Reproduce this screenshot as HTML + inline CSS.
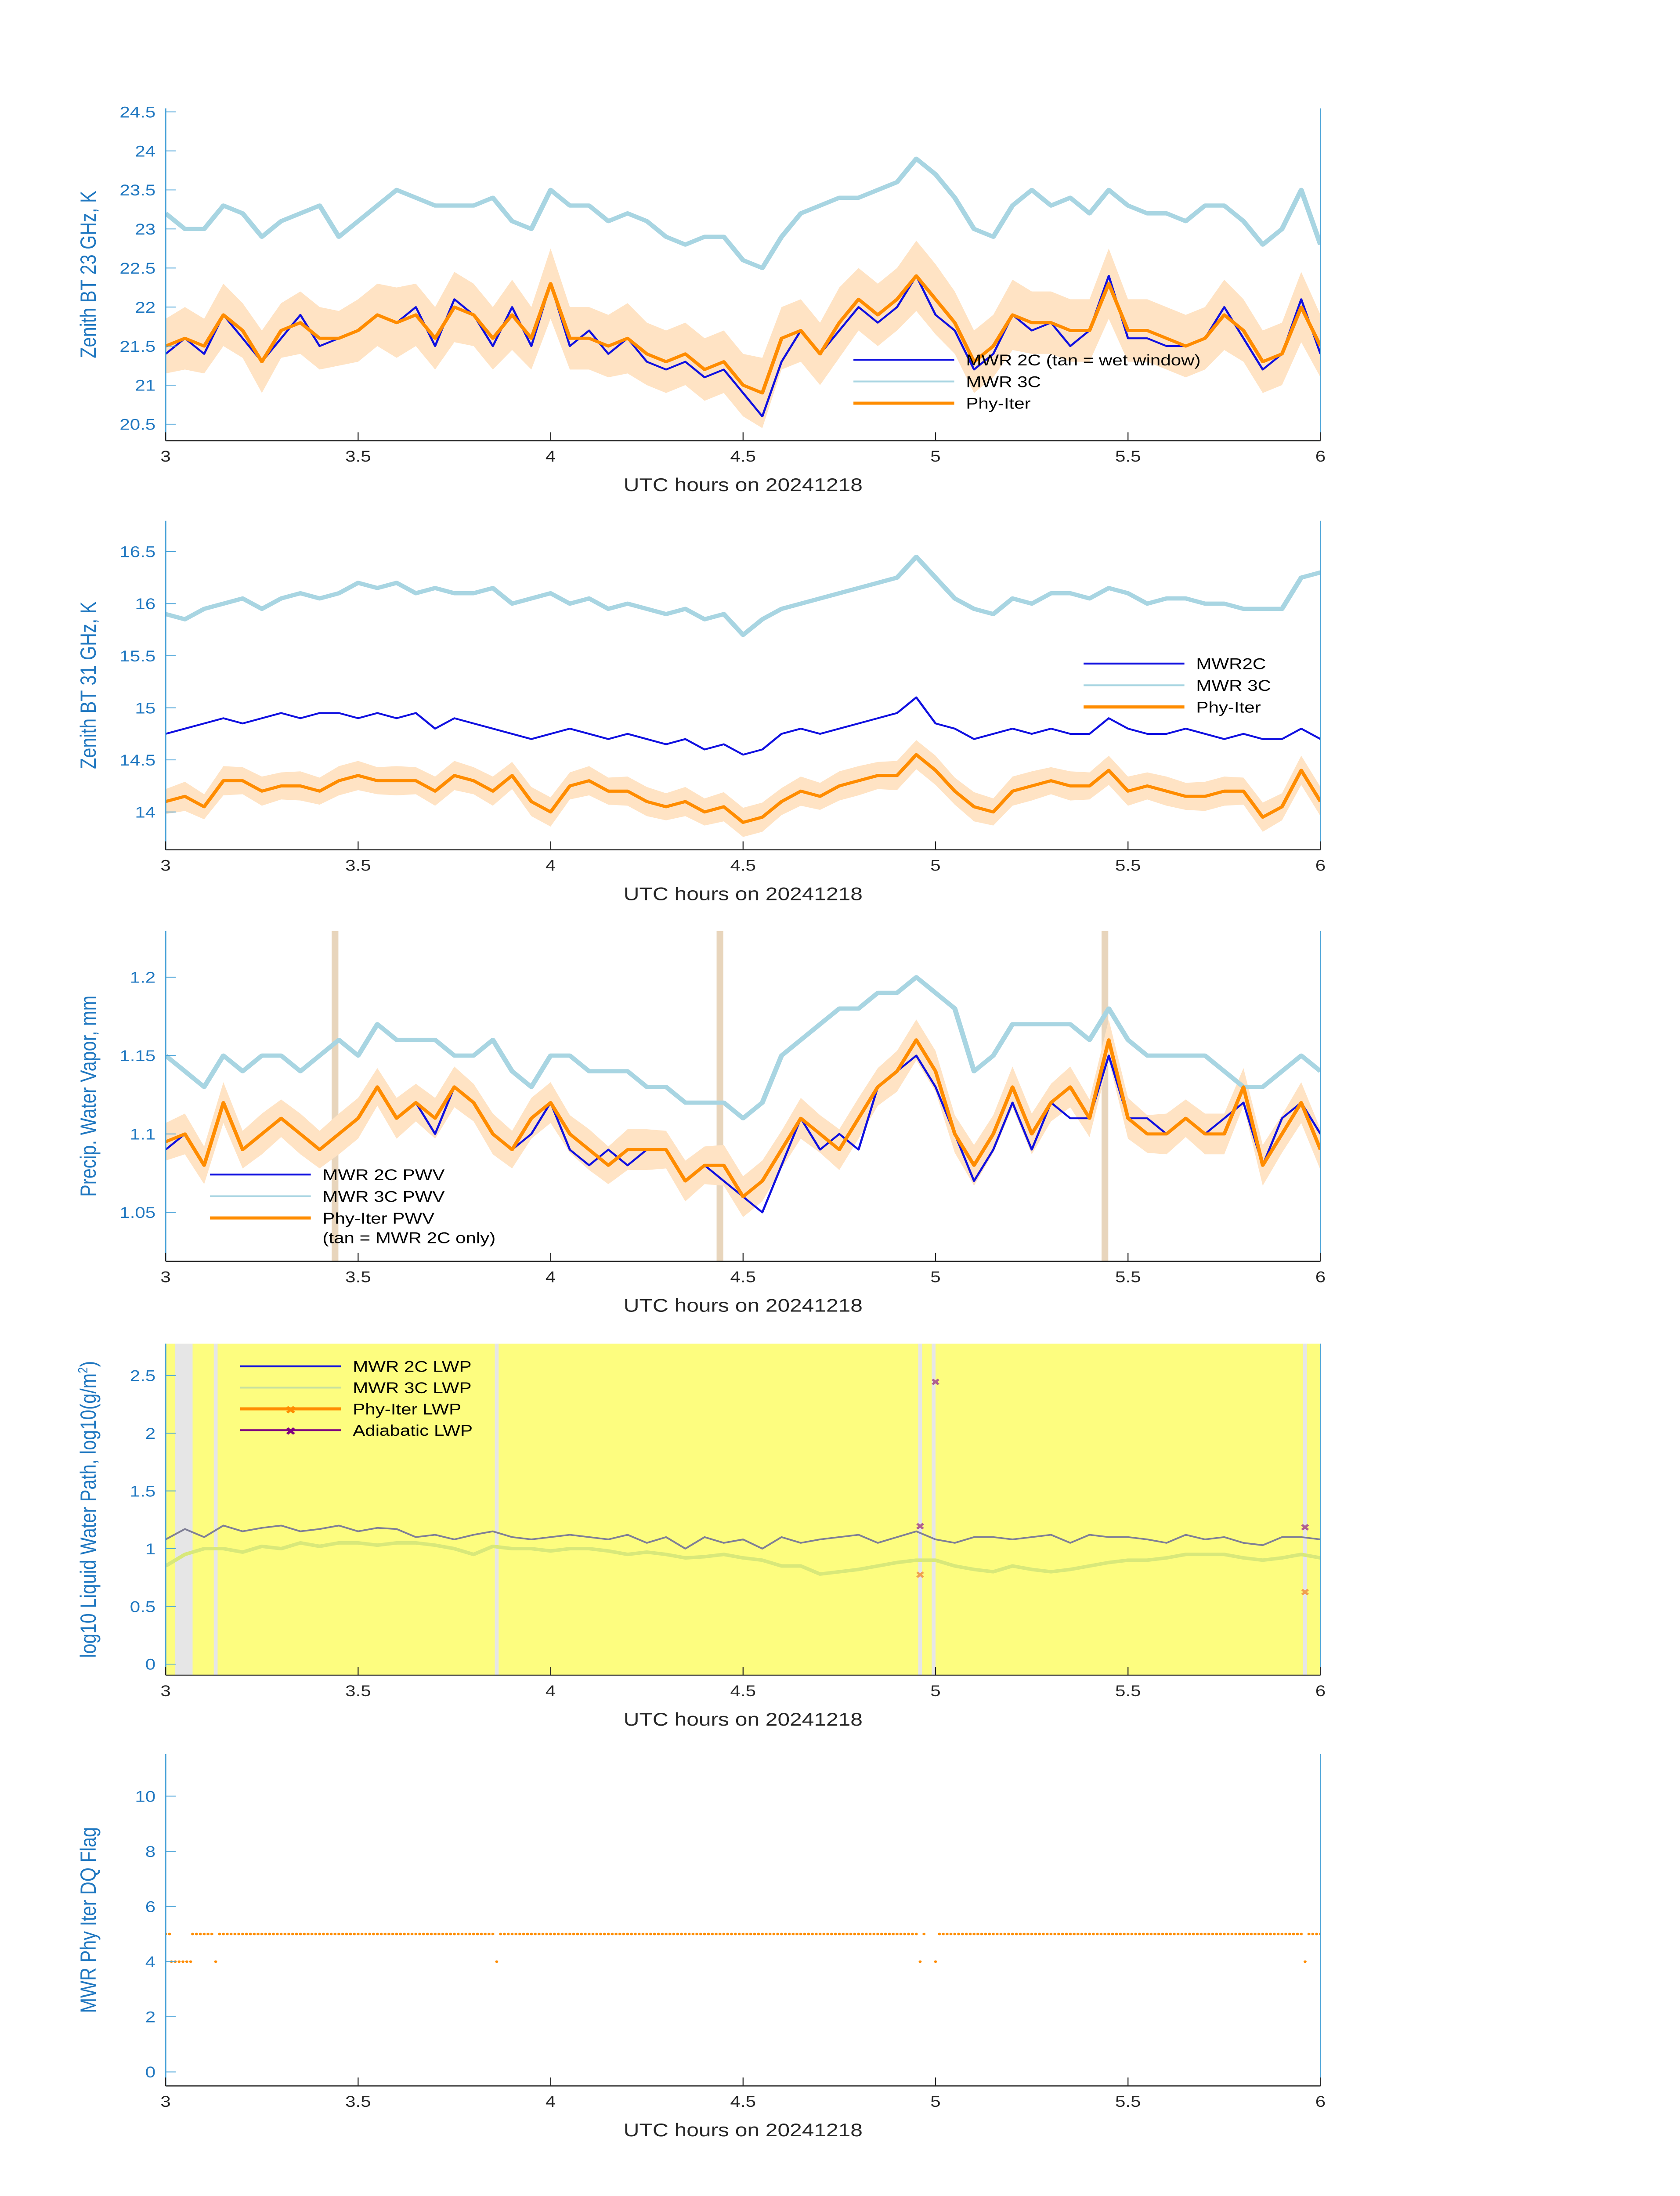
<!DOCTYPE html>
<html><head><meta charset="utf-8"><style>
html,body{margin:0;padding:0;background:#fff;width:100vw;height:100vh;overflow:hidden;}
svg{display:block;width:100vw;height:100vh;font-family:"Liberation Sans","DejaVu Sans",sans-serif;}
</style></head><body>
<svg id="fig" viewBox="0 0 1000 1568.63" preserveAspectRatio="none" xmlns="http://www.w3.org/2000/svg"></svg>
<script>
// ---------- data ----------
const hours = [3.0,3.05,3.1,3.15,3.2,3.25,3.3,3.35,3.4,3.45,3.5,3.55,3.6,3.65,3.7,3.75,3.8,3.85,3.9,3.95,4.0,4.05,4.1,4.15,4.2,4.25,4.3,4.35,4.4,4.45,4.5,4.55,4.6,4.65,4.7,4.75,4.8,4.85,4.9,4.95,5.0,5.05,5.1,5.15,5.2,5.25,5.3,5.35,5.4,5.45,5.5,5.55,5.6,5.65,5.7,5.75,5.8,5.85,5.9,5.95,6.0];
// panel 1: 23 GHz
const bt23_3c = [23.2,23.0,23.0,23.3,23.2,22.9,23.1,23.2,23.3,22.9,23.1,23.3,23.5,23.4,23.3,23.3,23.3,23.4,23.1,23.0,23.5,23.3,23.3,23.1,23.2,23.1,22.9,22.8,22.9,22.9,22.6,22.5,22.9,23.2,23.3,23.4,23.4,23.5,23.6,23.9,23.7,23.4,23.0,22.9,23.3,23.5,23.3,23.4,23.2,23.5,23.3,23.2,23.2,23.1,23.3,23.3,23.1,22.8,23.0,23.5,22.8];
const bt23_2c = [21.4,21.6,21.4,21.9,21.6,21.3,21.6,21.9,21.5,21.6,21.7,21.9,21.8,22.0,21.5,22.1,21.9,21.5,22.0,21.5,22.3,21.5,21.7,21.4,21.6,21.3,21.2,21.3,21.1,21.2,20.9,20.6,21.3,21.7,21.4,21.7,22.0,21.8,22.0,22.4,21.9,21.7,21.2,21.4,21.9,21.7,21.8,21.5,21.7,22.4,21.6,21.6,21.5,21.5,21.6,22.0,21.6,21.2,21.4,22.1,21.4];
const bt23_phy = [21.5,21.6,21.5,21.9,21.7,21.3,21.7,21.8,21.6,21.6,21.7,21.9,21.8,21.9,21.6,22.0,21.9,21.6,21.9,21.6,22.3,21.6,21.6,21.5,21.6,21.4,21.3,21.4,21.2,21.3,21.0,20.9,21.6,21.7,21.4,21.8,22.1,21.9,22.1,22.4,22.1,21.8,21.3,21.5,21.9,21.8,21.8,21.7,21.7,22.3,21.7,21.7,21.6,21.5,21.6,21.9,21.7,21.3,21.4,22.0,21.5];
const bt23_unc = [0.35,0.4,0.35,0.4,0.35,0.4,0.35,0.4,0.4,0.35,0.4,0.4,0.45,0.4,0.4,0.45,0.4,0.4,0.45,0.4,0.45,0.4,0.4,0.4,0.45,0.4,0.4,0.4,0.4,0.4,0.4,0.45,0.4,0.4,0.4,0.45,0.4,0.4,0.4,0.45,0.45,0.4,0.4,0.4,0.45,0.4,0.4,0.4,0.4,0.45,0.4,0.4,0.4,0.4,0.4,0.45,0.4,0.4,0.4,0.45,0.4];
// panel 2: 31 GHz
const bt31_3c = [15.9,15.85,15.95,16.0,16.05,15.95,16.05,16.1,16.05,16.1,16.2,16.15,16.2,16.1,16.15,16.1,16.1,16.15,16.0,16.05,16.1,16.0,16.05,15.95,16.0,15.95,15.9,15.95,15.85,15.9,15.7,15.85,15.95,16.0,16.05,16.1,16.15,16.2,16.25,16.45,16.25,16.05,15.95,15.9,16.05,16.0,16.1,16.1,16.05,16.15,16.1,16.0,16.05,16.05,16.0,16.0,15.95,15.95,15.95,16.25,16.3];
const bt31_2c = [14.75,14.8,14.85,14.9,14.85,14.9,14.95,14.9,14.95,14.95,14.9,14.95,14.9,14.95,14.8,14.9,14.85,14.8,14.75,14.7,14.75,14.8,14.75,14.7,14.75,14.7,14.65,14.7,14.6,14.65,14.55,14.6,14.75,14.8,14.75,14.8,14.85,14.9,14.95,15.1,14.85,14.8,14.7,14.75,14.8,14.75,14.8,14.75,14.75,14.9,14.8,14.75,14.75,14.8,14.75,14.7,14.75,14.7,14.7,14.8,14.7];
const bt31_phy = [14.1,14.15,14.05,14.3,14.3,14.2,14.25,14.25,14.2,14.3,14.35,14.3,14.3,14.3,14.2,14.35,14.3,14.2,14.35,14.1,14.0,14.25,14.3,14.2,14.2,14.1,14.05,14.1,14.0,14.05,13.9,13.95,14.1,14.2,14.15,14.25,14.3,14.35,14.35,14.55,14.4,14.2,14.05,14.0,14.2,14.25,14.3,14.25,14.25,14.4,14.2,14.25,14.2,14.15,14.15,14.2,14.2,13.95,14.05,14.4,14.1];
const bt31_unc = [0.12,0.14,0.12,0.14,0.13,0.14,0.13,0.14,0.13,0.14,0.14,0.13,0.14,0.13,0.14,0.14,0.13,0.14,0.13,0.14,0.14,0.13,0.14,0.13,0.14,0.14,0.13,0.14,0.13,0.14,0.14,0.14,0.13,0.14,0.13,0.14,0.14,0.13,0.14,0.14,0.14,0.13,0.14,0.13,0.14,0.14,0.13,0.14,0.13,0.14,0.14,0.13,0.14,0.13,0.14,0.14,0.13,0.14,0.13,0.14,0.14];
// panel 3: PWV
const pwv_3c = [1.15,1.14,1.13,1.15,1.14,1.15,1.15,1.14,1.15,1.16,1.15,1.17,1.16,1.16,1.16,1.15,1.15,1.16,1.14,1.13,1.15,1.15,1.14,1.14,1.14,1.13,1.13,1.12,1.12,1.12,1.11,1.12,1.15,1.16,1.17,1.18,1.18,1.19,1.19,1.2,1.19,1.18,1.14,1.15,1.17,1.17,1.17,1.17,1.16,1.18,1.16,1.15,1.15,1.15,1.15,1.14,1.13,1.13,1.14,1.15,1.14];
const pwv_2c = [1.09,1.10,1.08,1.12,1.09,1.10,1.11,1.10,1.09,1.10,1.11,1.13,1.11,1.12,1.10,1.13,1.12,1.10,1.09,1.10,1.12,1.09,1.08,1.09,1.08,1.09,1.09,1.07,1.08,1.07,1.06,1.05,1.08,1.11,1.09,1.10,1.09,1.13,1.14,1.15,1.13,1.10,1.07,1.09,1.12,1.09,1.12,1.11,1.11,1.15,1.11,1.11,1.10,1.11,1.10,1.11,1.12,1.08,1.11,1.12,1.10];
const pwv_phy = [1.095,1.10,1.08,1.12,1.09,1.10,1.11,1.10,1.09,1.10,1.11,1.13,1.11,1.12,1.11,1.13,1.12,1.10,1.09,1.11,1.12,1.10,1.09,1.08,1.09,1.09,1.09,1.07,1.08,1.08,1.06,1.07,1.09,1.11,1.10,1.09,1.11,1.13,1.14,1.16,1.14,1.10,1.08,1.10,1.13,1.10,1.12,1.13,1.11,1.16,1.11,1.10,1.10,1.11,1.10,1.10,1.13,1.08,1.10,1.12,1.09];
const pwv_unc = [0.012,0.013,0.012,0.013,0.012,0.013,0.012,0.013,0.012,0.013,0.013,0.012,0.013,0.012,0.013,0.013,0.012,0.013,0.012,0.013,0.013,0.012,0.013,0.012,0.013,0.013,0.012,0.013,0.012,0.013,0.013,0.013,0.012,0.013,0.012,0.013,0.013,0.012,0.013,0.013,0.013,0.012,0.013,0.012,0.013,0.013,0.012,0.013,0.012,0.013,0.013,0.012,0.013,0.012,0.013,0.013,0.012,0.013,0.012,0.013,0.013];
const wetWindows3 = [3.44,4.44,5.44];
// panel 4: LWP (log10)
const lwp_2c = [1.08,1.17,1.1,1.2,1.15,1.18,1.2,1.15,1.17,1.2,1.15,1.18,1.17,1.1,1.12,1.08,1.12,1.15,1.1,1.08,1.1,1.12,1.1,1.08,1.12,1.05,1.1,1.0,1.1,1.05,1.08,1.0,1.1,1.05,1.08,1.1,1.12,1.05,1.1,1.15,1.08,1.05,1.1,1.1,1.08,1.1,1.12,1.05,1.12,1.1,1.1,1.08,1.05,1.12,1.08,1.1,1.05,1.03,1.1,1.1,1.08];
const lwp_3c = [0.85,0.95,1.0,1.0,0.97,1.02,1.0,1.05,1.02,1.05,1.05,1.03,1.05,1.05,1.03,1.0,0.95,1.02,1.0,1.0,0.98,1.0,1.0,0.98,0.95,0.97,0.95,0.92,0.93,0.95,0.92,0.9,0.85,0.85,0.78,0.8,0.82,0.85,0.88,0.9,0.9,0.85,0.82,0.8,0.85,0.82,0.8,0.82,0.85,0.88,0.9,0.9,0.92,0.95,0.95,0.95,0.92,0.9,0.92,0.95,0.92];
const greyBands4 = [[3.025,3.07],[3.125,3.135],[3.855,3.865],[4.955,4.965],[4.99,5.0],[5.955,5.965]];
const phyLwpT = [4.96,5.96];
const phyLwpV = [0.78,0.63];
const adiaLwpT = [4.96,5.0,5.96];
const adiaLwpV = [1.2,2.45,1.19];
// panel 5: DQ flag runs [start,end,value]
const flagRuns = [[3.0,3.01,5],[3.07,3.12,5],[3.14,3.85,5],[3.87,4.95,5],[4.97,4.97,5],[5.01,5.95,5],[5.97,6.0,5],[3.015,3.065,4],[3.13,3.13,4],[3.86,3.86,4],[4.96,4.96,4],[5.0,5.0,4],[5.96,5.96,4]];
// tick labels
const xTicks = [3,3.5,4,4.5,5,5.5,6];
const yTicks1 = [20.5,21,21.5,22,22.5,23,23.5,24,24.5];
const yTicks2 = [14,14.5,15,15.5,16,16.5];
const yTicks3 = [1.05,1.1,1.15,1.2];
const yTicks4 = [0,0.5,1,1.5,2,2.5];
const yTicks5 = [0,2,4,6,8,10];

// ---------- drawing ----------
const NS='http://www.w3.org/2000/svg';
const svg=document.getElementById('fig');
const L=98.6,R=786;
const xs=h=>L+(h-3)/3*(R-L);
function el(tag,attrs,parent){const e=document.createElementNS(NS,tag);for(const k in attrs)e.setAttribute(k,attrs[k]);(parent||svg).appendChild(e);return e;}
function txt(s,attrs,parent){const e=el('text',attrs,parent);e.textContent=s;return e;}
function mkY(v1,p1,v2,p2){return v=>p1+(v-v1)*(p2-p1)/(v2-v1);}
function pathD(t,v,ys){return t.map((h,i)=>(i?'L':'M')+xs(h).toFixed(2)+','+ys(v[i]).toFixed(2)).join('');}
function bandD(t,c,u,ys){let d=t.map((h,i)=>(i?'L':'M')+xs(h).toFixed(2)+','+ys(c[i]+u[i]).toFixed(2)).join('');for(let i=t.length-1;i>=0;i--)d+='L'+xs(t[i]).toFixed(2)+','+ys(c[i]-u[i]).toFixed(2);return d+'Z';}

function axes(name,top,bot,ys,yticks,ylabel,fmt){
  const g=el('g',{});
  
  
  const cp=el('clipPath',{id:'clip-'+name},g);el('rect',{x:L,y:top,width:R-L,height:bot-top},cp);
  const plot=el('g',{'clip-path':'url(#clip-'+name+')'},g);
  const ax=el('line',{x1:L,y1:bot,x2:R,y2:bot,stroke:'#262626','stroke-width':0.8},g);
  
  
  const ay=el('line',{x1:L,y1:top,x2:L,y2:bot,stroke:'#4aa3d8','stroke-width':0.8},g);
  
  
  el('line',{x1:R,y1:top,x2:R,y2:bot,stroke:'#4aa3d8','stroke-width':0.8},g);
  xTicks.forEach(t=>{
    el('line',{x1:xs(t),y1:bot,x2:xs(t),y2:bot-6,stroke:'#262626','stroke-width':0.6},g);
    const tl=txt(String(t),{x:xs(t),y:bot+15,'font-size':11,'text-anchor':'middle',fill:'#262626'},g);
    
    
  });
  yticks.forEach(t=>{
    el('line',{x1:L,y1:ys(t),x2:L+6,y2:ys(t),stroke:'#4aa3d8','stroke-width':0.6},g);
    const tl=txt(fmt?fmt(t):String(t),{x:L-6,y:ys(t)+4,'font-size':11,'text-anchor':'end',fill:'#1f77c0'},g);
    
    
  });
  const xl=txt('UTC hours on 20241218',{x:(L+R)/2,y:bot+36,'font-size':13,'text-anchor':'middle',fill:'#262626'},g);
  
  
  const yc=(top+bot)/2;
  const yl=el('text',{x:0,y:0,'font-size':13,'text-anchor':'middle',fill:'#1f77c0',transform:'translate(57,'+yc+') rotate(-90)'},g);
  yl.innerHTML=ylabel;
  
  
  return {g,plot};
}
function line(parent,d,color,w,name){const p=el('path',{d:d,fill:'none',stroke:color,'stroke-width':w,'stroke-linejoin':'round'},parent);return p;}
function band(parent,d,name){const p=el('path',{d:d,fill:'#ffe3c4',stroke:'none'},parent);return p;}
function legend(parent,x,y0,dy,items,name){
  const g=el('g',{},parent);
  
  
  items.forEach((it,i)=>{
    const y=y0+i*dy;
    el('line',{x1:x,y1:y,x2:x+60,y2:y,stroke:it[1],'stroke-width':it[2]},g);
    if(it[3])txt('✖',{x:x+30,y:y+3.5,'font-size':8,'text-anchor':'middle',fill:it[3]},g);
    const t=txt(it[0],{x:x+67,y:y+4,'font-size':11,fill:'#000'},g);
    
    
  });
}

// Panel 1
{const ys=mkY(24.5,79.9,20.5,303);const a=axes('panel-23ghz',77.4,314.8,ys,yTicks1,'Zenith BT 23 GHz, K');
band(a.plot,bandD(hours,bt23_phy,bt23_unc,ys),'phy-iter-uncertainty-band');
line(a.plot,pathD(hours,bt23_3c,ys),'#a8d5e2',3,'mwr-3c-line');
line(a.plot,pathD(hours,bt23_2c,ys),'#1010e0',1.3,'mwr-2c-line');
line(a.plot,pathD(hours,bt23_phy,ys),'#ff8c00',2.2,'phy-iter-line');
legend(a.g,508,257,15.5,[['MWR 2C (tan = wet window)','#1010e0',1.3],['MWR 3C','#a8d5e2',1.3],['Phy-Iter','#ff8c00',2.2]],'legend-23ghz');}
// Panel 2
{const ys=mkY(16.5,394,14,580);const a=axes('panel-31ghz',372,607,ys,yTicks2,'Zenith BT 31 GHz, K');
band(a.plot,bandD(hours,bt31_phy,bt31_unc,ys),'phy-iter-uncertainty-band');
line(a.plot,pathD(hours,bt31_3c,ys),'#a8d5e2',3,'mwr-3c-line');
line(a.plot,pathD(hours,bt31_2c,ys),'#1010e0',1.3,'mwr-2c-line');
line(a.plot,pathD(hours,bt31_phy,ys),'#ff8c00',2.2,'phy-iter-line');
legend(a.g,645,474,15.5,[['MWR2C','#1010e0',1.3],['MWR 3C','#a8d5e2',1.3],['Phy-Iter','#ff8c00',2.2]],'legend-31ghz');}
// Panel 3
{const ys=mkY(1.2,698,1.05,866);const a=axes('panel-pwv',665,901,ys,yTicks3,'Precip. Water Vapor, mm');
wetWindows3.forEach(h=>{const r=el('rect',{x:xs(h)-2,y:665,width:4,height:236,fill:'#e8d5bc'},a.plot);});
band(a.plot,bandD(hours,pwv_phy,pwv_unc,ys),'phy-iter-uncertainty-band');
line(a.plot,pathD(hours,pwv_3c,ys),'#a8d5e2',3,'mwr-3c-pwv-line');
line(a.plot,pathD(hours,pwv_2c,ys),'#1010e0',1.3,'mwr-2c-pwv-line');
line(a.plot,pathD(hours,pwv_phy,ys),'#ff8c00',2.2,'phy-iter-pwv-line');
legend(a.g,125,839,15.5,[['MWR 2C PWV','#1010e0',1.3],['MWR 3C PWV','#a8d5e2',1.3],['Phy-Iter PWV','#ff8c00',2.2]],'legend-pwv');
txt('(tan = MWR 2C only)',{x:192,y:888,'font-size':11,fill:'#000'},a.g);}
// Panel 4
{const ys=mkY(2.5,982.5,0,1188.7);const a=axes('panel-lwp',959.8,1196.6,ys,yTicks4,'log10 Liquid Water Path, log10(g/m<tspan dy="-5" font-size="8">2</tspan><tspan dy="5">)</tspan>');
const bg=el('rect',{x:L,y:959.8,width:R-L,height:236.8,fill:'#fdfd7f'},a.plot);


a.plot.insertBefore(bg,a.plot.firstChild);
greyBands4.forEach(b=>{const r=el('rect',{x:xs(b[0]),y:959.8,width:Math.max(2,xs(b[1])-xs(b[0])),height:236.8,fill:'#e6e6e6'},a.plot);});
line(a.plot,pathD(hours,lwp_3c,ys),'#d8e87a',2.5,'mwr-3c-lwp-line');
line(a.plot,pathD(hours,lwp_2c,ys),'#7f7f96',1.2,'mwr-2c-lwp-line');
phyLwpT.forEach((h,i)=>{const m=txt('✖',{x:xs(h),y:ys(phyLwpV[i])+3,'font-size':7,'text-anchor':'middle',fill:'#f0a050'},a.plot);});
adiaLwpT.forEach((h,i)=>{const m=txt('✖',{x:xs(h),y:ys(adiaLwpV[i])+3,'font-size':7,'text-anchor':'middle',fill:'#b06090'},a.plot);});
legend(a.g,143,976,15.2,[['MWR 2C LWP','#1010e0',1.3],['MWR 3C LWP','#c8e0a0',1.3],['Phy-Iter LWP','#ff8c00',2.2,'#ff8c00'],['Adiabatic LWP','#800080',1.3,'#800080']],'legend-lwp');}
// Panel 5
{const ys=mkY(10,1283,0,1480);const a=axes('panel-dq-flag',1253,1490,ys,yTicks5,'MWR Phy Iter DQ Flag');
flagRuns.forEach(r=>{for(let h=r[0];h<=r[1]+1e-6;h+=0.01){const c=el('circle',{cx:xs(h),cy:ys(r[2]),r:0.9,fill:'#ff8c00'},a.plot);}});}
</script>
</body></html>
